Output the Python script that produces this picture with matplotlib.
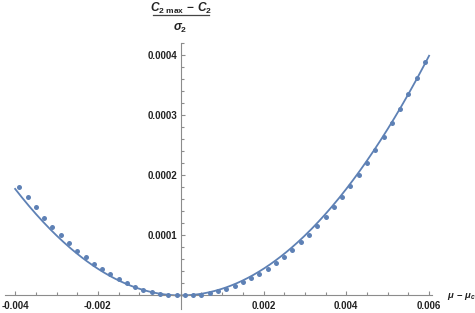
import numpy as np
import matplotlib
matplotlib.use("Agg")
import matplotlib.pyplot as plt
from matplotlib.lines import Line2D

plt.rcParams['font.family'] = ['Liberation Sans', 'DejaVu Sans']
plt.rcParams['axes.unicode_minus'] = False
plt.rcParams['mathtext.fontset'] = 'custom'
plt.rcParams['mathtext.rm'] = 'Liberation Sans:style=normal:weight=bold'
plt.rcParams['mathtext.it'] = 'Liberation Sans:style=italic:weight=bold'
plt.rcParams['mathtext.bf'] = 'Liberation Sans:style=normal:weight=bold'

# data: mu - mu_c  and  (C2max - C2)/sigma2
mu = [-0.0039, -0.0037, -0.0035, -0.0033, -0.0031, -0.0029, -0.0027, -0.0025,
      -0.0023, -0.0021, -0.0019, -0.0017, -0.0015, -0.0013, -0.0011, -0.0009,
      -0.0007, -0.0005, -0.0003, -0.0001, 0.0001, 0.0003, 0.0005, 0.0007,
      0.0009, 0.0011, 0.0013, 0.0015, 0.0017, 0.0019, 0.0021, 0.0023, 0.0025,
      0.0027, 0.0029, 0.0031, 0.0033, 0.0035, 0.0037, 0.0039, 0.0041, 0.0043,
      0.0045, 0.0047, 0.0049, 0.0051, 0.0053, 0.0055, 0.0057, 0.0059]
val_e4 = [1.812, 1.632, 1.466, 1.296, 1.146, 1.000, 0.864, 0.747,
          0.634, 0.531, 0.434, 0.351, 0.268, 0.201, 0.145, 0.095,
          0.057, 0.028, 0.007, 0.002, 0.000, 0.000, 0.002, 0.035,
          0.068, 0.106, 0.151, 0.220, 0.290, 0.359, 0.439, 0.534, 0.634,
          0.755, 0.889, 1.008, 1.151, 1.303, 1.469, 1.639, 1.817, 2.000,
          2.198, 2.414, 2.636, 2.864, 3.101, 3.346, 3.612, 3.879]
xtick_vals = [-0.004, -0.002, 0.002, 0.004, 0.006]
xtick_labels = ['-0.004', '-0.002', '0.002', '0.004', '0.006']
ytick_vals = [0.0001, 0.0002, 0.0003, 0.0004]
ytick_labels = ['0.0001', '0.0002', '0.0003', '0.0004']

x = np.array(mu)
y = np.array(val_e4) * 1e-4

# least-squares fit of a*x^2
A = (x ** 2)[:, None]
coef = np.linalg.lstsq(A, y, rcond=None)[0][0]
xf = np.linspace(-0.004, 0.006, 300)
yf = coef * xf ** 2

W, H = 475, 313
fig = plt.figure(figsize=(W / 100, H / 100), dpi=100)
left_px, right_px, top_px, bot_px = 5.2, 432.4, 42.7, 309
ax = fig.add_axes([left_px / W, 1 - bot_px / H, (right_px - left_px) / W, (bot_px - top_px) / H])
ax.set_xlim(-0.00424, 0.00608)
ax.set_ylim(-0.0000226, 0.0004205)

col = '#5E81B5'
ax.plot(xf, yf, color=col, lw=1.3, zorder=2)
ax.plot(x, y, 'o', color=col, ms=3.6, mew=0, zorder=3)

for s in ['top', 'right']:
    ax.spines[s].set_visible(False)
ax.spines['left'].set_position(('data', 0))
ax.spines['bottom'].set_position(('data', 0))
for s in ['left', 'bottom']:
    ax.spines[s].set_color('#8c8c8c')
    ax.spines[s].set_linewidth(0.8)

ax.set_xticks(xtick_vals)
ax.set_xticklabels(xtick_labels)
ax.set_xticks(np.arange(-0.004, 0.00601, 0.0005), minor=True)
ax.set_yticks(ytick_vals)
ax.set_yticklabels(ytick_labels)
ax.set_yticks(np.arange(0, 0.000421, 0.00002), minor=True)
ax.tick_params(which='both', direction='in', color='#8c8c8c', width=0.8,
               labelsize=7, labelcolor='#222222')
ax.tick_params(which='major', length=3.2)
ax.tick_params(which='minor', length=2.0)
ax.tick_params(axis='x', which='major', pad=4)
ax.tick_params(axis='y', which='major', pad=2.5)
for lab in ax.get_xticklabels() + ax.get_yticklabels():
    lab.set_fontweight('bold')
ax.patch.set_alpha(0)

# y-axis label as a stacked fraction
cx = 180.8
fig.text(cx / W, 1 - 8 / H, r'$C_{2\ \mathrm{max}}\,-\,C_2$',
         ha='center', va='center', fontsize=8.6, color='#222222')
fig.add_artist(Line2D([153 / W, 208.5 / W], [1 - 15.3 / H, 1 - 15.3 / H],
                      transform=fig.transFigure, color='#444444', lw=0.9))
fig.text((cx - 0.5) / W, 1 - 28 / H, r'$\sigma_2$',
         ha='center', va='center', fontsize=8.6, color='#222222')
fig.text(447 / W, 1 - 297 / H, r'$\mu\,-\,\mu_c$', ha='left', va='center',
         fontsize=6.8, color='#222222')

fig.savefig('out.png', dpi=100)
